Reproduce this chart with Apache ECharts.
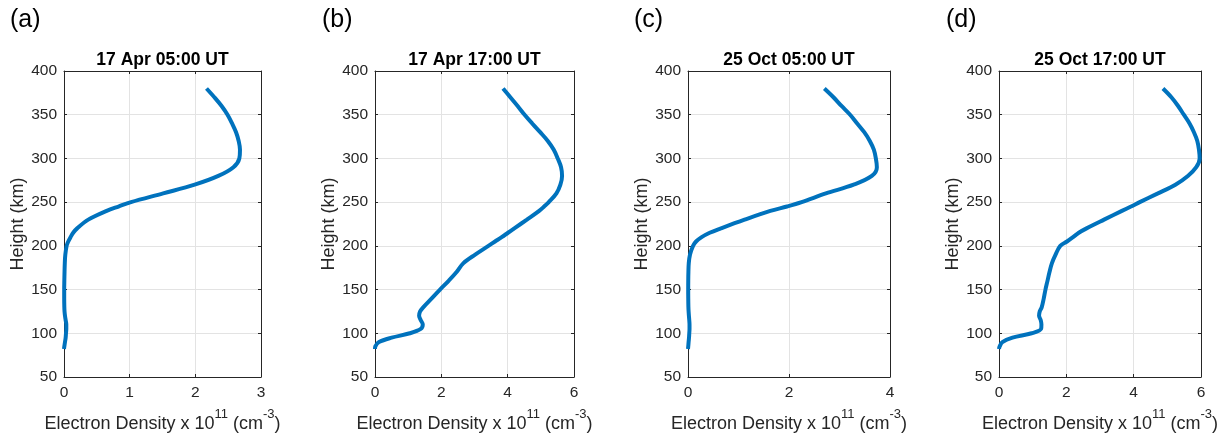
<!DOCTYPE html>
<html>
<head>
<meta charset="utf-8">
<script src="https://cdn.jsdelivr.net/npm/echarts@6/dist/echarts.min.js"></script>
<style>
html,body{margin:0;padding:0;background:#fff;}
#chart{width:1232px;height:438px;}
</style>
</head>
<body>
<div id="chart"></div>
<script>
// ---- data ----
var panelLetters = ['(a)', '(b)', '(c)', '(d)'];
var panelTitles = ['17 Apr 05:00 UT', '17 Apr 17:00 UT', '25 Oct 05:00 UT', '25 Oct 17:00 UT'];
var xMax = [3, 6, 4, 6];
var xStep = [1, 2, 2, 2];
var yTicks = [50, 100, 150, 200, 250, 300, 350, 400];
var heights = [82, 85, 90, 95, 100, 105, 110, 115, 120, 125, 130, 140, 150, 160, 170, 180, 190, 200, 205, 210, 215, 220, 230, 240, 245, 250, 260, 270, 280, 290, 300, 310, 320, 330, 340, 350, 360, 370, 380];
var densA = [0.0, 0.005, 0.015, 0.025, 0.03, 0.035, 0.035, 0.025, 0.015, 0.008, 0.005, 0.003, 0.003, 0.005, 0.008, 0.012, 0.02, 0.04, 0.065, 0.10, 0.14, 0.20, 0.37, 0.65, 0.83, 1.02, 1.51, 1.99, 2.35, 2.58, 2.67, 2.68, 2.66, 2.62, 2.56, 2.49, 2.40, 2.29, 2.17];
var densB = [0.0, 0.01, 0.12, 0.50, 1.05, 1.38, 1.44, 1.38, 1.33, 1.36, 1.46, 1.71, 1.96, 2.22, 2.46, 2.66, 3.02, 3.42, 3.62, 3.82, 4.01, 4.20, 4.58, 4.95, 5.10, 5.24, 5.47, 5.59, 5.64, 5.61, 5.51, 5.39, 5.21, 4.98, 4.74, 4.51, 4.30, 4.08, 3.86];
var densC = [0.0, 0.005, 0.012, 0.02, 0.025, 0.03, 0.03, 0.025, 0.018, 0.012, 0.008, 0.005, 0.004, 0.005, 0.008, 0.015, 0.04, 0.10, 0.16, 0.27, 0.43, 0.65, 1.12, 1.63, 1.96, 2.25, 2.73, 3.28, 3.64, 3.74, 3.72, 3.68, 3.60, 3.49, 3.35, 3.21, 3.04, 2.88, 2.70];
var densD = [0.0, 0.02, 0.10, 0.40, 0.97, 1.25, 1.26, 1.24, 1.19, 1.21, 1.27, 1.33, 1.38, 1.44, 1.50, 1.57, 1.68, 1.82, 2.02, 2.20, 2.37, 2.60, 3.12, 3.65, 3.92, 4.18, 4.72, 5.24, 5.61, 5.86, 5.96, 5.94, 5.89, 5.79, 5.66, 5.49, 5.32, 5.12, 4.87];
var densities = [densA, densB, densC, densD];

// ---- layout ----
var gridBoxes = [
  {left: 64, width: 197},
  {left: 375, width: 199},
  {left: 688, width: 202},
  {left: 999, width: 202}
];
var letterX = [10, 322, 634, 946];
var plotTop = 71, plotHeight = 310;
var axisColor = '#262626';
var fontFam = '"Liberation Sans", Arial, Helvetica, sans-serif';

var grids = [], xAxes = [], yAxes = [], series = [], titles = [];
for (var i = 0; i < 4; i++) {
  var g = gridBoxes[i];
  grids.push({left: g.left, width: g.width, top: plotTop, height: plotHeight, containLabel: false});
  var commonLine = {show: true, onZero: false, lineStyle: {color: axisColor, width: 1}};
  var tick = {show: true, inside: true, length: 3, lineStyle: {color: axisColor}};
  xAxes.push({
    type: 'value', gridIndex: i, position: 'bottom', min: 0, max: xMax[i], interval: xStep[i],
    axisLine: commonLine, axisTick: tick,
    axisLabel: {color: axisColor, fontSize: 15.5, fontFamily: fontFam, margin: 8},
    splitLine: {show: true, lineStyle: {color: '#e3e3e3', width: 1}},
    name: '{a|Electron Density x 10}{s|11}{a| (cm}{s|-3}{a|)}',
    nameLocation: 'middle', nameGap: 31,
    nameTextStyle: {
      color: axisColor, fontFamily: fontFam,
      rich: {
        a: {fontSize: 18, lineHeight: 25, verticalAlign: 'bottom', color: axisColor, fontFamily: fontFam},
        s: {fontSize: 13, lineHeight: 13, verticalAlign: 'top', color: axisColor, fontFamily: fontFam}
      }
    }
  });
  xAxes.push({
    type: 'value', gridIndex: i, position: 'top', min: 0, max: xMax[i], interval: xStep[i],
    axisLine: commonLine, axisTick: tick, axisLabel: {show: false}, splitLine: {show: false}
  });
  yAxes.push({
    type: 'value', gridIndex: i, position: 'left', min: yTicks[0], max: yTicks[yTicks.length - 1], interval: 50,
    axisLine: commonLine, axisTick: tick,
    axisLabel: {color: axisColor, fontSize: 15.5, fontFamily: fontFam, margin: 7},
    splitLine: {show: true, lineStyle: {color: '#e3e3e3', width: 1}},
    name: 'Height (km)', nameLocation: 'middle', nameGap: 37,
    nameTextStyle: {color: axisColor, fontSize: 18, fontFamily: fontFam}
  });
  yAxes.push({
    type: 'value', gridIndex: i, position: 'right', min: yTicks[0], max: yTicks[yTicks.length - 1], interval: 50,
    axisLine: commonLine, axisTick: tick, axisLabel: {show: false}, splitLine: {show: false}
  });
  var pts = [];
  for (var k = 0; k < heights.length; k++) pts.push([densities[i][k], heights[k]]);
  series.push({
    type: 'line', xAxisIndex: 2 * i, yAxisIndex: 2 * i, data: pts,
    showSymbol: false, smooth: 0.35, clip: false,
    lineStyle: {color: '#0072BD', width: 4},
    animation: false
  });
  titles.push({
    text: panelTitles[i], left: g.left + g.width / 2, textAlign: 'center', top: 51, padding: 0,
    textStyle: {fontSize: 17.5, fontWeight: 'bold', color: '#000', fontFamily: fontFam}
  });
  titles.push({
    text: panelLetters[i], left: letterX[i], top: 8, padding: 0,
    textStyle: {fontSize: 25, fontWeight: 'normal', color: '#000', fontFamily: fontFam}
  });
}

var chart = echarts.init(document.getElementById('chart'), null, {renderer: 'canvas'});
chart.setOption({
  backgroundColor: '#fff',
  animation: false,
  title: titles,
  grid: grids,
  xAxis: xAxes,
  yAxis: yAxes,
  series: series
});
</script>
</body>
</html>
